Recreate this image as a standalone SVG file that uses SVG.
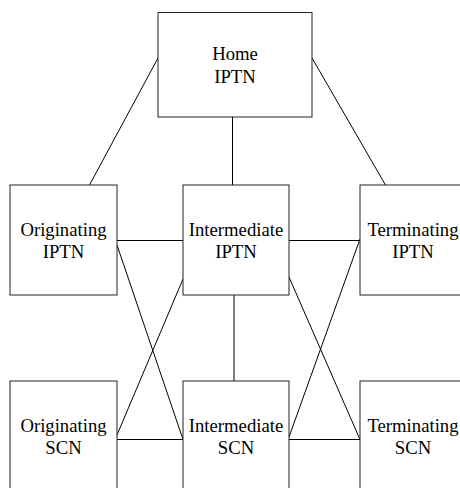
<svg xmlns="http://www.w3.org/2000/svg" width="460" height="488" viewBox="0 0 460 488">
<style>
.box{fill:#fff;stroke:#222;stroke-width:1}
text{font-family:'Liberation Serif','Tinos','Times New Roman','DejaVu Serif',serif;font-size:18.7px;fill:#000;text-anchor:middle}
.con line{stroke:#000;stroke-width:1}
</style>
<rect width="460" height="488" fill="#fff"/>
<g class="con" id="connectors">
<line x1="158" y1="58" x2="89.5" y2="185"/>
<line x1="312" y1="58" x2="385.5" y2="185"/>
<line x1="232.5" y1="117" x2="232.5" y2="185"/>
<line x1="117" y1="240.5" x2="183" y2="240.5"/>
<line x1="289" y1="240.5" x2="360" y2="240.5"/>
<line x1="234" y1="295" x2="234" y2="381"/>
<line x1="117" y1="439.5" x2="183" y2="439.5"/>
<line x1="289" y1="439.5" x2="360" y2="439.5"/>
<line x1="117" y1="245" x2="183" y2="439.5"/>
<line x1="183" y1="279" x2="117" y2="435"/>
<line x1="289" y1="277" x2="360" y2="439.5"/>
<line x1="360" y1="239" x2="289" y2="437"/>
</g>
<g id="home"><rect class="box" x="158" y="12.5" width="154" height="104.5"/><text x="235" y="60">Home</text><text x="235" y="82.7">IPTN</text></g>
<g id="orig-iptn"><rect class="box" x="10" y="185" width="107" height="110"/><text x="63.5" y="235.7">Originating</text><text x="63.5" y="258.3">IPTN</text></g>
<g id="inter-iptn"><rect class="box" x="183" y="185" width="106" height="110"/><text x="236" y="235.7">Intermediate</text><text x="236" y="258.3">IPTN</text></g>
<g id="term-iptn"><rect class="box" x="360" y="185" width="107" height="110"/><text x="413" y="235.7">Terminating</text><text x="413" y="258.3">IPTN</text></g>
<g id="orig-scn"><rect class="box" x="10" y="381" width="107" height="110"/><text x="63.5" y="431.7">Originating</text><text x="63.5" y="454">SCN</text></g>
<g id="inter-scn"><rect class="box" x="183" y="381" width="106" height="110"/><text x="236" y="431.7">Intermediate</text><text x="236" y="454">SCN</text></g>
<g id="term-scn"><rect class="box" x="360" y="381" width="107" height="110"/><text x="413" y="431.7">Terminating</text><text x="413" y="454">SCN</text></g>
</svg>
